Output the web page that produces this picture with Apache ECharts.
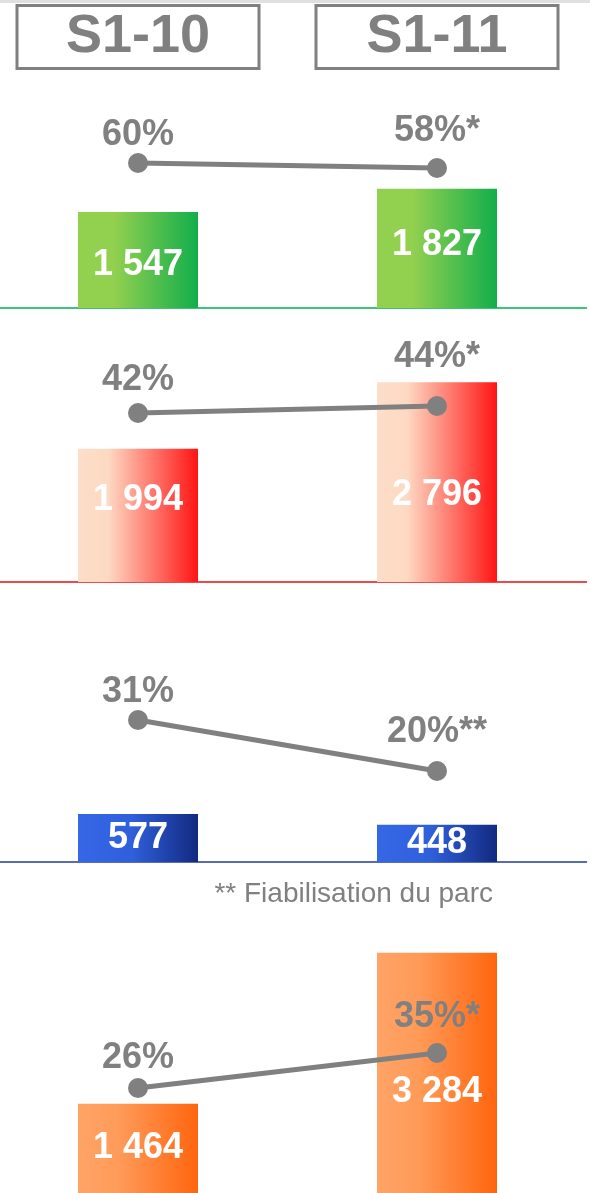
<!DOCTYPE html>
<html>
<head>
<meta charset="utf-8">
<script src="https://cdn.jsdelivr.net/npm/echarts@6/dist/echarts.min.js"></script>
<style>
html,body{margin:0;padding:0;background:#fff;}
#chart{width:590px;height:1193px;}
</style>
</head>
<body>
<div id="chart"></div>
<script>
// ---- data ----
const categories = ['S1-10', 'S1-11'];
const volumes1 = [1547, 1827];
const volumes2 = [1994, 2796];
const volumes3 = [577, 448];
const volumes4 = [1464, 3284];
const shares1 = [60, 58];
const shares2 = [42, 44];
const shares3 = [31, 20];
const shares4 = [26, 35];
const shareNotes1 = ['', '*'];
const shareNotes2 = ['', '*'];
const shareNotes3 = ['', '**'];
const shareNotes4 = ['', '*'];
const footnote = '** Fiabilisation du parc';

// ---- layout / style ----
const FONT = "'Liberation Sans', Arial, sans-serif";
const GRAY = '#808080';
const panels = [
  { vol: volumes1, share: shares1, notes: shareNotes1, top: 90, bottom: 885,
    grad: [['#92D050', 0], ['#92D050', 0.3], ['#12AE4B', 1]], base: '#00B050', showBase: true,
    barMin: 390, barMax: 3016.5, lineMin: 2, lineMax: 89.2,
    barDy: [5, -3], pctDist: [0, 9] },
  { vol: volumes2, share: shares2, notes: shareNotes2, top: 320, bottom: 611,
    grad: [['#FDDEC8', 0], ['#FDD9C3', 0.25], ['#FF1414', 1]], base: '#E81010', showBase: true,
    barMin: 390, barMax: 3546.6, lineMin: -6.29, lineMax: 68.57,
    barDy: [-15, 13], pctDist: [5, 21] },
  { vol: volumes3, share: shares3, notes: shareNotes3, top: 600, bottom: 331,
    grad: [['#3667E6', 0], ['#2F5FDB', 0.45], ['#122A80', 1]], base: '#1F3C9C', showBase: true,
    barMin: 0, barMax: 3156.6, lineMin: 0.37, lineMax: 56.88,
    barDy: [0, 0], pctDist: [0, 11] },
  { vol: volumes4, share: shares4, notes: shareNotes4, top: 900, bottom: 0,
    grad: [['#FFA466', 0], ['#FF9A58', 0.35], ['#FF650E', 1]], base: '#FF650E', showBase: false,
    barMin: 390, barMax: 3920.1, lineMin: -1.0, lineMax: 74.34,
    barDy: [0, 19], pctDist: [2, 8] }
];

function fmt(v) { return String(v).replace(/\B(?=(\d{3})+(?!\d))/g, ' '); }

const grid = [], xAxis = [], yAxis = [], series = [];
panels.forEach((p, i) => {
  grid.push({ left: -11.5, right: 3.5, top: p.top, bottom: p.bottom, containLabel: false, outerBoundsMode: 'none' });
  xAxis.push({
    type: 'category', gridIndex: i, data: categories, boundaryGap: true,
    axisLine: { show: p.showBase, onZero: false, lineStyle: { color: p.base, width: 1.5 } },
    axisTick: { show: false }, axisLabel: { show: false }, splitLine: { show: false }
  });
  yAxis.push({ type: 'value', gridIndex: i, min: p.barMin, max: p.barMax, show: false, splitLine: { show: false } });
  yAxis.push({ type: 'value', gridIndex: i, min: p.lineMin, max: p.lineMax, show: false, splitLine: { show: false } });
  const stops = p.grad.map(s => ({ color: s[0], offset: s[1] }));
  series.push({
    type: 'bar', xAxisIndex: i, yAxisIndex: i * 2, barWidth: 120, clip: true,
    itemStyle: { color: new echarts.graphic.LinearGradient(0, 0, 1, 0, stops) },
    data: p.vol.map((v, j) => ({
      value: v,
      label: {
        show: true, position: 'inside', offset: [0, p.barDy[j]],
        formatter: () => fmt(v), color: '#fff', fontSize: 36, fontWeight: 'bold', fontFamily: FONT
      }
    })),
    z: 2
  });
  series.push({
    type: 'line', xAxisIndex: i, yAxisIndex: i * 2 + 1, symbol: 'circle', symbolSize: 20,
    lineStyle: { color: GRAY, width: 5 }, itemStyle: { color: GRAY },
    data: p.share.map((v, j) => ({
      value: v,
      label: {
        show: true, position: 'top', distance: p.pctDist[j],
        formatter: () => v + '%' + p.notes[j], color: GRAY, fontSize: 36, fontWeight: 'bold', fontFamily: FONT
      }
    })),
    z: 5, animation: false
  });
});

// header boxes as top category labels of the first panel
xAxis.push({
  type: 'category', gridIndex: 0, position: 'top', data: categories, boundaryGap: true,
  axisLine: { show: false, onZero: false }, axisTick: { show: false }, splitLine: { show: false },
  axisLabel: {
    show: true, interval: 0, margin: 21.5, color: GRAY, fontSize: 54, fontWeight: 'bold', fontFamily: FONT,
    width: 242, height: 63, lineHeight: 63, align: 'center', borderColor: GRAY, borderWidth: 3, padding: 0
  }
});

const chart = echarts.init(document.getElementById('chart'), null, { renderer: 'canvas' });
chart.setOption({
  animation: false,
  backgroundColor: '#ffffff',
  title: {
    text: footnote, right: 97, top: 880, padding: 0,
    textStyle: { fontSize: 28, fontWeight: 'normal', color: GRAY, fontFamily: FONT }
  },
  graphic: [{ type: 'rect', left: 0, top: 0, shape: { width: 590, height: 3 }, style: { fill: '#E0E0E0' }, silent: true }],
  grid, xAxis, yAxis, series
});
</script>
</body>
</html>
